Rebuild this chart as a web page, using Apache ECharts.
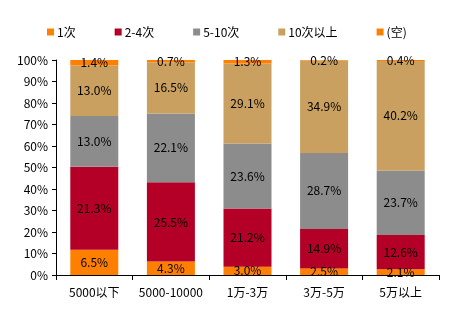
<!DOCTYPE html>
<html><head><meta charset="utf-8">
<script src="https://cdn.jsdelivr.net/npm/echarts@6/dist/echarts.min.js"></script>
<style>html,body{margin:0;padding:0;background:#fff}#c{width:455px;height:326px}</style>
</head><body><div id="c"></div>
<script>
var categories = ['5000以下', '5000-10000', '1万-3万', '3万-5万', '5万以上'];
var seriesNames = ['1次', '2-4次', '5-10次', '10次以上', '(空)'];
var once = [6.5, 4.3, 3.0, 2.5, 2.1];
var twoToFour = [21.3, 25.5, 21.2, 14.9, 12.6];
var fiveToTen = [13.0, 22.1, 23.6, 28.7, 23.7];
var tenPlus = [13.0, 16.5, 29.1, 34.9, 40.2];
var blank = [1.4, 0.7, 1.3, 0.2, 0.4];
var yTicks = [0, 10, 20, 30, 40, 50, 60, 70, 80, 90, 100];

var raw = [once, twoToFour, fiveToTen, tenPlus, blank];
var colors = ['#FF8000', '#B40026', '#8C8C8C', '#C9A060', '#FF8000'];
var totals = categories.map(function (c, i) {
  return raw.reduce(function (s, arr) { return s + arr[i]; }, 0);
});
var font = '"Noto Sans CJK SC", "Noto Sans", sans-serif';
var chart = echarts.init(document.getElementById('c'));
chart.setOption({
  animation: false,
  textStyle: { fontFamily: font },
  legend: {
    left: 42, top: 21, itemWidth: 7, itemHeight: 7, itemGap: 39,
    icon: 'rect',
    textStyle: { fontSize: 12, color: '#000', fontFamily: font, padding: [0, 0, 0, -2] },
    data: seriesNames
  },
  grid: { left: 56, right: 16, top: 60, bottom: 51 },
  xAxis: {
    type: 'category', data: categories,
    axisLine: { lineStyle: { color: '#000', width: 1 } },
    axisTick: { show: true, length: 5, lineStyle: { color: '#000' } },
    axisLabel: { color: '#000', fontSize: 12, margin: 11, interval: 0, hideOverlap: false, fontFamily: font }
  },
  yAxis: {
    type: 'value', min: yTicks[0], max: yTicks[yTicks.length - 1], interval: 10,
    axisLine: { show: true, lineStyle: { color: '#000', width: 1 } },
    axisTick: { show: true, length: 4, lineStyle: { color: '#000' } },
    splitLine: { show: false },
    axisLabel: { color: '#000', fontSize: 12, margin: 8, formatter: '{value}%', fontFamily: font }
  },
  series: raw.map(function (arr, k) {
    return {
      name: seriesNames[k], type: 'bar', stack: 'all', barWidth: 48,
      itemStyle: { color: colors[k] },
      label: {
        show: true, position: 'inside', color: '#000', fontSize: 12, fontFamily: font,
        formatter: function (p) { return arr[p.dataIndex].toFixed(1) + '%'; }
      },
      labelLayout: { hideOverlap: false },
      data: arr.map(function (v, i) { return v / totals[i] * 100; })
    };
  })
});
</script></body></html>
